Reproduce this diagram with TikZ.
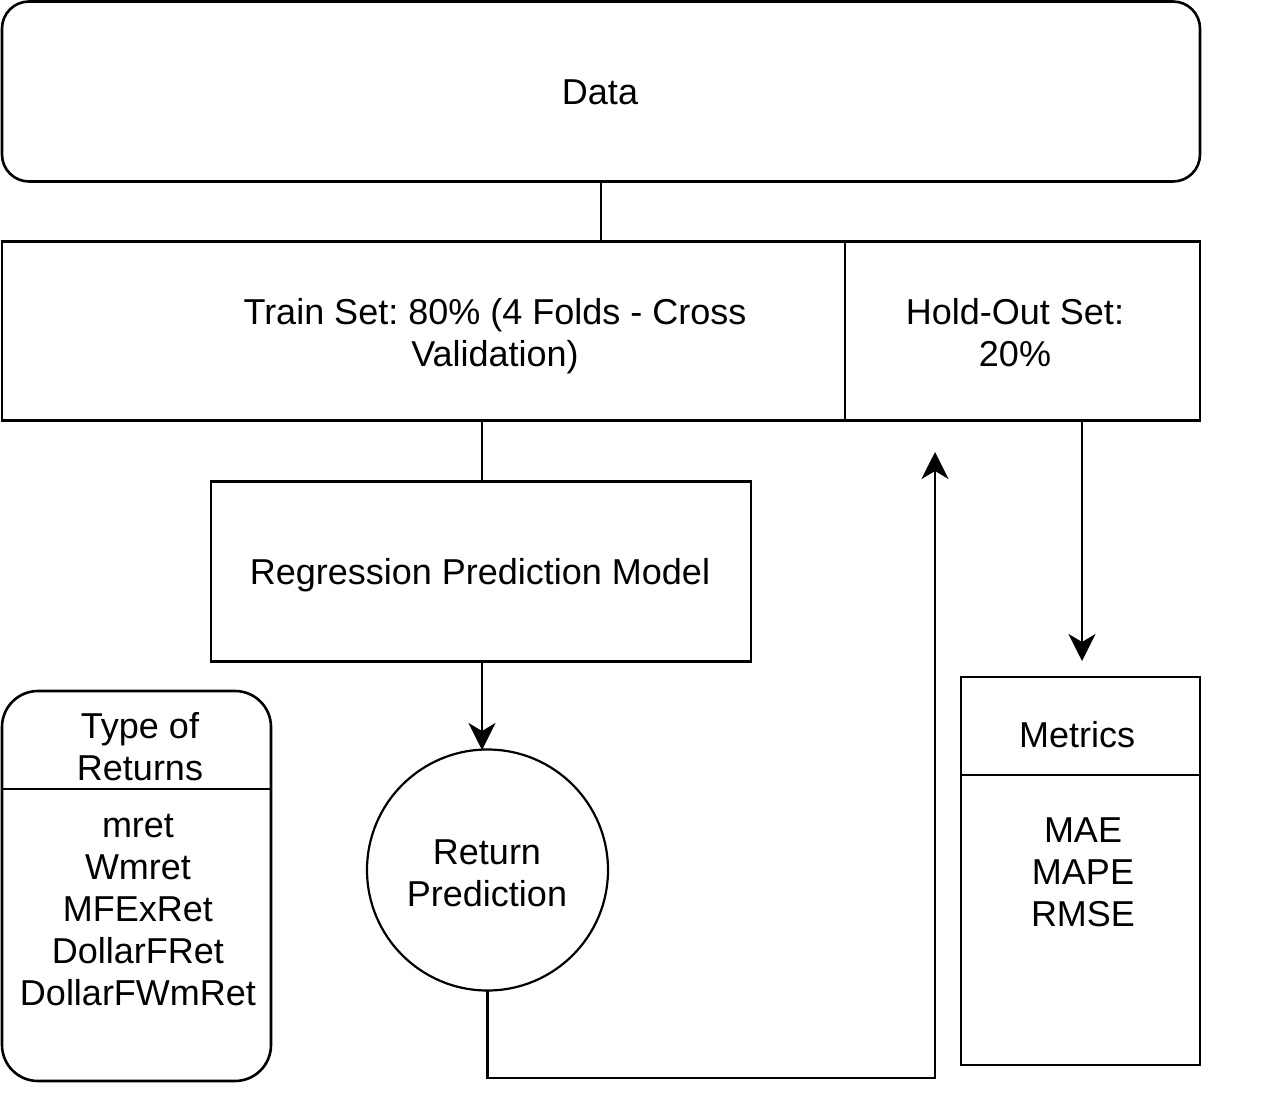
\documentclass[tikz,border=0pt]{standalone}
\usepackage{fontspec}
\setmainfont{Liberation Sans}
\usetikzlibrary{arrows.meta,calc}
\frenchspacing
\begin{document}
\begin{tikzpicture}[x=1pt,y=-1pt,
  every node/.style={font=\fontsize{36}{42}\selectfont, align=center, inner sep=0pt, outer sep=0pt},
  box/.style={draw, line width=2.6pt, minimum width=#1},
  conn/.style={line width=2.7pt},
  arr/.style={conn, -{Stealth[length=27pt,width=27pt,inset=8pt]}},
  txt/.style={draw=none}
]
\useasboundingbox (0,0) rectangle (1272,1107);
% Data
\node[box=1198pt, minimum height=180pt, rounded corners=27pt] (data) at (601,91.5) {};
\node[txt] (datat) at (600,92) {Data};
% Train / hold-out
\node[box=843pt, minimum height=179pt] (train) at (423.5,331) {};
\node[txt] (traint) at (495,336) {Train Set: 80\% (4 Folds - Cross\\Validation)};
\node[box=355pt, minimum height=179pt] (hold) at (1022.5,331) {};
\node[txt] (holdt) at (1015,333) {Hold-Out Set:\\20\%};
% Regression
\node[box=540pt, minimum height=180pt] (reg) at (481,571.5) {};
\node[txt] (regt) at (480,575) {Regression Prediction Model};
% Circle
\node[draw, circle, line width=2.2pt, minimum size=241pt] (circ) at (487.5,870) {};
\node[txt] (circt) at (487,873) {Return\\Prediction};
% Metrics
\node[box=239pt, minimum height=388pt] (met) at (1080.5,871) {};
\coordinate (metsep) at (961,775);
\draw[line width=2.6pt] (met.west |- metsep) -- (met.east |- metsep);
\node[txt] (mett) at (1077,735) {Metrics};
\node[txt] (metb) at (1083,872) {MAE\\MAPE\\RMSE};
% Type of returns
\node[box=269pt, minimum height=390pt, rounded corners=36pt] (types) at (136.5,886) {};
\coordinate (typsep) at (2,789);
\draw[line width=2.6pt] (types.west |- typsep) -- (types.east |- typsep);
\node[txt] (typh) at (140,747) {Type of\\Returns};
\node[txt] (typb) at (138,910) {mret\\Wmret\\MFExRet\\DollarFRet\\DollarFWmRet};
% Connectors
\draw[conn] (data.south) -- (data.south |- train.north);
\coordinate (regtop) at (482,481);
\draw[conn] (regtop |- train.south) -- (regtop);
\coordinate (circtop) at (482,750);
\draw[arr] (circtop |- reg.south) -- (circtop);
\coordinate (fb) at (935,1078);
\coordinate (fbtip) at (935,452);
\draw[arr] (circ.south) -- (circ.south |- fb) -- (fb) -- (fbtip);
\coordinate (mtip) at (1082,661);
\draw[arr] (hold.south -| mtip) -- (mtip);
\end{tikzpicture}
\end{document}
